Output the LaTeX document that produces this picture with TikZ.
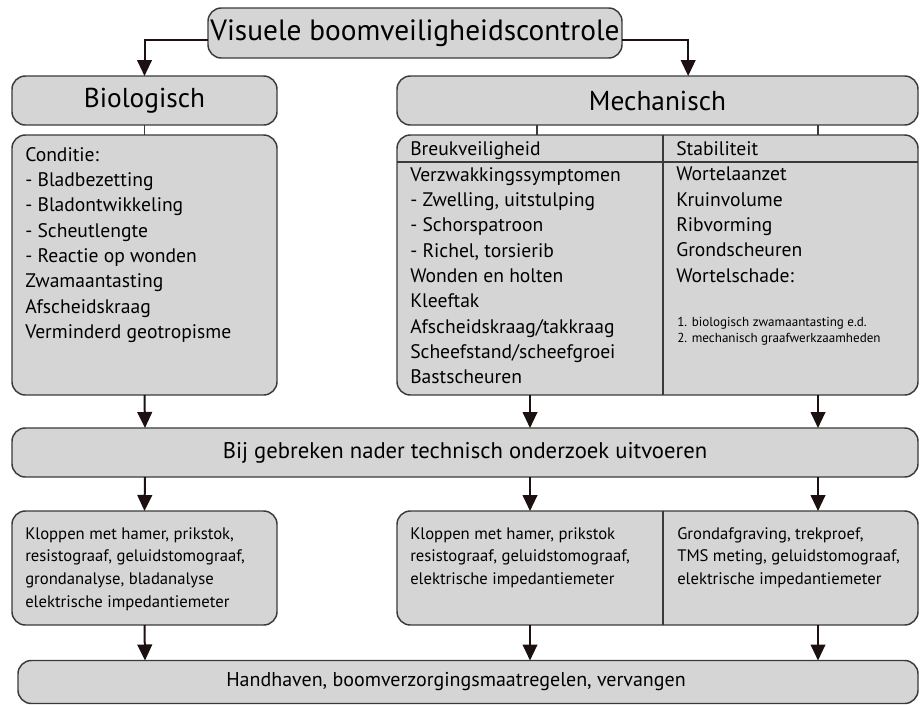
\documentclass[tikz,border=0pt]{standalone}
\usepackage{fontspec}
\setmainfont{PT Sans}
\usetikzlibrary{arrows.meta}
\definecolor{vakgrijs}{HTML}{D5D5D5}
\definecolor{rand}{HTML}{3A3A3A}
\definecolor{pijlkleur}{HTML}{1C1110}

\begin{document}
\begin{tikzpicture}[x=0.75pt,y=-0.75pt,
  vak/.style={draw=rand, fill=vakgrijs, line width=1.1pt, rounded corners=10pt, inner sep=0pt, outer sep=0pt},
  kop/.style={font=\fontsize{20.5}{24}\selectfont},
  lijst/.style={anchor=north west, inner sep=0pt, align=left, font=\fontsize{14.7}{19}\selectfont},
  klein/.style={anchor=north west, inner sep=0pt, align=left, font=\fontsize{12.5}{17}\selectfont},
  mini/.style={anchor=north west, inner sep=0pt, align=left, font=\fontsize{9.8}{12}\selectfont},
  pijl/.style={draw=pijlkleur, line width=1.5pt, -{Triangle[length=12pt,width=11pt]}},
  lijn/.style={draw=rand, line width=1.1pt}]
\useasboundingbox (0,0) rectangle (920,704);

% kolommen voor de pijlen
\coordinate (k1) at (145,0);
\coordinate (k2) at (530,0);
\coordinate (k2b) at (537,0);
\coordinate (k3) at (818,0);
\coordinate (deler) at (663,0);
\coordinate (kopregel) at (0,162);

% bovenste rij
\node[vak, font=\fontsize{22}{26}\selectfont, minimum width=310.5pt, minimum height=37.5pt] (visueel) at (415,33) {Visuele boomveiligheidscontrole};
\node[vak, kop, minimum width=198.75pt, minimum height=36.75pt] (bio) at (144.5,100.5) {Biologisch};
\node[vak, kop, minimum width=390.75pt, minimum height=36.75pt] (mech) at (657.5,100.5) {Mechanisch};

% criteria
\node[vak, minimum width=198.75pt, minimum height=195pt] (conditie) at (144.5,265) {};
\node[vak, minimum width=390.75pt, minimum height=195pt] (criteria) at (657.5,265) {};
\draw[lijn] (criteria.west |- kopregel) -- (criteria.east |- kopregel);
\draw[lijn] (criteria.north -| deler) -- (criteria.south -| deler);

\node[lijst] (conditietekst) at (25,147) {Conditie:\\- Bladbezetting\\- Bladontwikkeling\\- Scheutlengte\\- Reactie op wonden\\Zwamaantasting\\Afscheidskraag\\Verminderd geotropisme};
\node[lijst] (breuk) at (410,141) {Breukveiligheid};
\node[lijst] (breuktekst) at (410,167) {Verzwakkingssymptomen\\- Zwelling, uitstulping\\- Schorspatroon\\- Richel, torsierib\\Wonden en holten\\Kleeftak\\Afscheidskraag/takkraag\\Scheefstand/scheefgroei\\Bastscheuren};
\node[lijst] (stab) at (676,141) {Stabiliteit};
\node[lijst] (stabtekst) at (676,167) {Wortelaanzet\\Kruinvolume\\Ribvorming\\Grondscheuren\\Wortelschade:};
\node[mini] (schade) at (677,317) {1. biologisch zwamaantasting e.d.\\2. mechanisch graafwerkzaamheden};

% onderzoek
\node[vak, font=\fontsize{17}{21}\selectfont, minimum width=679.5pt, minimum height=36.75pt] (onderzoek) at (465,452.5) {Bij gebreken nader technisch onderzoek uitvoeren};
\node[vak, minimum width=198.75pt, minimum height=85.5pt] (methode1) at (144.5,568) {};
\node[vak, minimum width=390.75pt, minimum height=85.5pt] (methode2) at (657.5,568) {};
\draw[lijn] (methode2.north -| deler) -- (methode2.south -| deler);
\node[klein] (methode1tekst) at (25,527) {Kloppen met hamer, prikstok,\\resistograaf, geluidstomograaf,\\grondanalyse, bladanalyse\\elektrische impedantiemeter};
\node[klein] (methode2tekst) at (410,527) {Kloppen met hamer, prikstok\\resistograaf, geluidstomograaf,\\elektrische impedantiemeter};
\node[klein] (methode3tekst) at (677,527) {Grondafgraving, trekproef,\\TMS meting, geluidstomograaf,\\elektrische impedantiemeter};

\node[vak, font=\fontsize{15}{19}\selectfont, minimum width=675pt, minimum height=32.25pt] (handhaven) at (468,682) {\hspace*{-18pt}Handhaven, boomverzorgingsmaatregelen, vervangen};

% verbindingen
\draw[pijl] ([yshift=-5pt]visueel.west) -| (bio.north);
\draw[pijl] ([yshift=-5pt]visueel.east) -| ([xshift=23pt]mech.north);
\draw[lijn] (bio.south) -- (conditie.north);
\draw[lijn] (mech.south -| k2b) -- (criteria.north -| k2b);
\draw[lijn] (mech.south -| k3) -- (criteria.north -| k3);

\draw[pijl] (conditie.south) -- (onderzoek.north -| k1);
\draw[pijl] (criteria.south -| k2) -- (onderzoek.north -| k2);
\draw[pijl] (criteria.south -| k3) -- (onderzoek.north -| k3);
\draw[pijl] (onderzoek.south -| k1) -- (methode1.north);
\draw[pijl] (onderzoek.south -| k2) -- (methode2.north -| k2);
\draw[pijl] (onderzoek.south -| k3) -- (methode2.north -| k3);
\draw[pijl] (methode1.south) -- (handhaven.north -| k1);
\draw[pijl] (methode2.south -| k2) -- (handhaven.north -| k2);
\draw[pijl] (methode2.south -| k3) -- (handhaven.north -| k3);
\end{tikzpicture}
\end{document}
